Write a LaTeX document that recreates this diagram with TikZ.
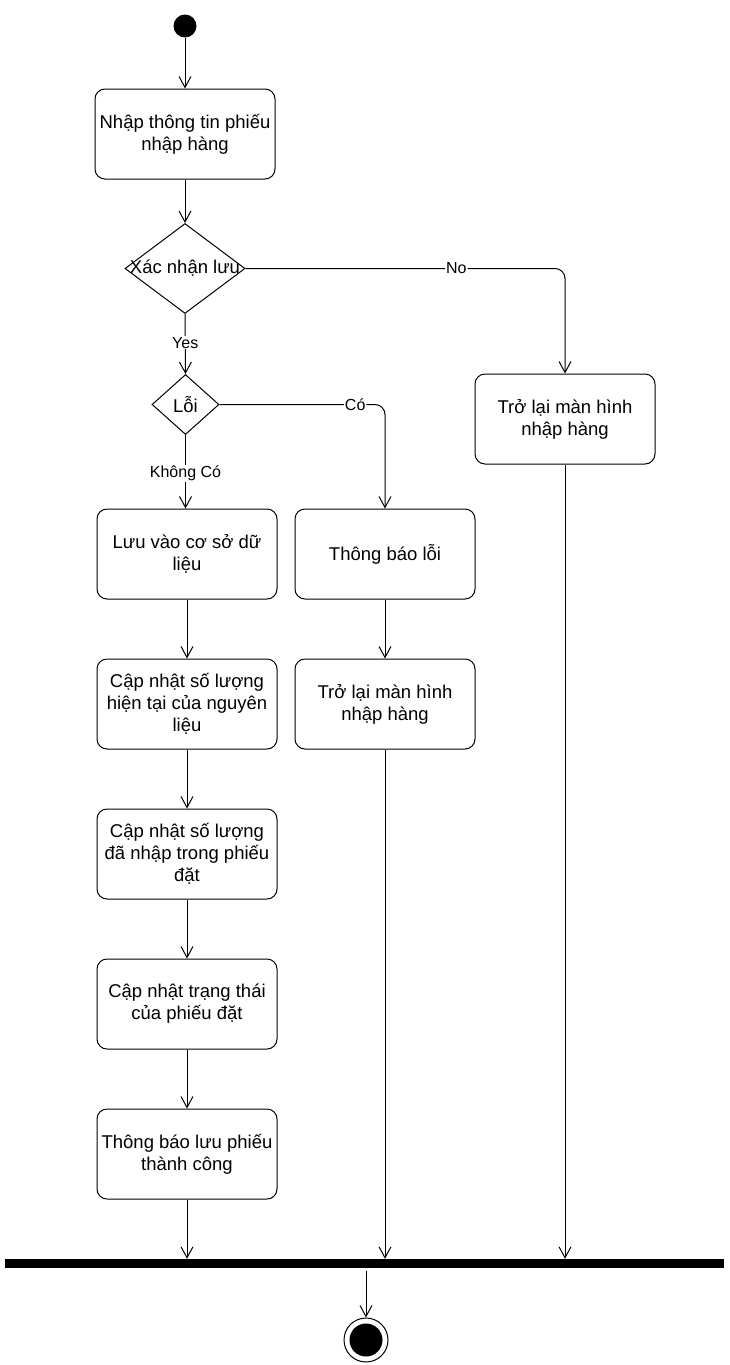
\documentclass[tikz,border=0pt]{standalone}
\usepackage{fontspec}
\setmainfont{Liberation Sans}
\usetikzlibrary{arrows.meta,shapes.geometric}
\begin{document}
\begin{tikzpicture}[x=1pt,y=-1pt,
  every node/.style={font=\fontsize{18.5}{22}\selectfont},
  act/.style={draw,line width=1pt,rounded corners=10pt,minimum width=180pt,minimum height=90pt,align=center,inner sep=2pt},
  dec/.style={draw,line width=1pt,diamond,inner sep=0pt},
  arr/.style={line width=1pt,-{Straight Barb[length=11pt,width=12pt,line width=1pt]}},
  lbl/.style={fill=white,inner sep=1pt,font=\fontsize{16}{19}\selectfont}]
\useasboundingbox (0,0) rectangle (729,1365);

% start
\node[circle,fill=black,minimum size=23pt,inner sep=0pt] (start) at (185,26) {};

% actions
\node[act] (inp) at (185,134) {Nhập thông tin phiếu\\nhập hàng};
\node[dec,minimum width=120pt,minimum height=90pt,label={center:Xác nhận lưu}] (confirm) at (185,268.5) {};
\node[act] (backR) at (565,419) {Trở lại màn hình\\nhập hàng};
\node[dec,minimum width=67pt,minimum height=60pt,label={center:Lỗi}] (err) at (185.5,404.5) {};
\node[act] (save) at (187,554) {Lưu vào cơ sở dữ\\liệu};
\node[act] (notifyErr) at (385,554) {Thông báo lỗi};
\node[act] (backM) at (385,704) {Trở lại màn hình\\nhập hàng};
\node[act] (upd1) at (187,704) {Cập nhật số lượng\\hiện tại của nguyên\\liệu};
\node[act] (upd2) at (187,854) {Cập nhật số lượng\\đã nhập trong phiếu\\đặt};
\node[act] (upd3) at (187,1004) {Cập nhật trạng thái\\của phiếu đặt};
\node[act] (done) at (187,1154) {Thông báo lưu phiếu\\thành công};

% join bar and final node
\node[rectangle,fill=black,minimum width=719pt,minimum height=9pt,inner sep=0pt] (bar) at (364.5,1263.5) {};
\node[circle,draw,line width=1pt,fill=white,minimum size=44pt,inner sep=0pt] (final) at (366,1340) {};
\node[circle,fill=black,minimum size=33pt,inner sep=0pt] at (final) {};

% flows
\draw[arr] (start) -- (inp);
\draw[arr] (inp) -- (confirm);
\draw[arr,rounded corners=10pt] (confirm.east) -| node[lbl,pos=0.33]{No} (backR.north);
\draw[arr] (confirm.south) -- node[lbl,pos=0.48]{Yes} (err.north);
\draw[arr,rounded corners=10pt] (err.east) -| node[lbl,pos=0.41]{Có} (notifyErr.north);
\draw[arr] (err.south) -- node[lbl,pos=0.52]{Không Có} (err.south |- save.north);
\draw[arr] (save) -- (upd1);
\draw[arr] (upd1) -- (upd2);
\draw[arr] (upd2) -- (upd3);
\draw[arr] (upd3) -- (done);
\draw[arr] (notifyErr) -- (backM);
\draw[arr] (done.south) -- (done.south |- bar.north);
\draw[arr] (backM.south) -- (backM.south |- bar.north);
\draw[arr] (backR.south) -- (backR.south |- bar.north);
\draw[arr,shorten <=3pt] (final.north |- bar.south) -- (final.north);
\end{tikzpicture}
\end{document}
